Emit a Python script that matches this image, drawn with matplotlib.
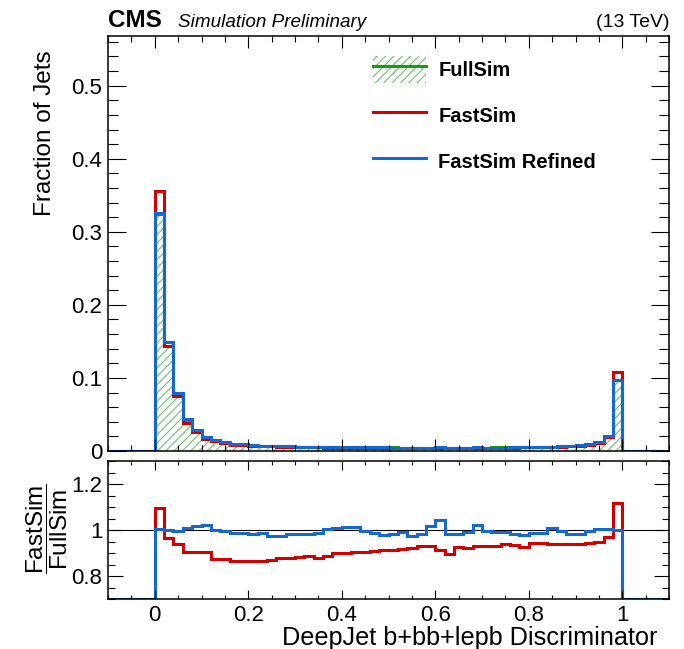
import numpy as np
import matplotlib
matplotlib.use("Agg")
import matplotlib.pyplot as plt
from matplotlib.lines import Line2D
from matplotlib.patches import Patch
from matplotlib.ticker import MultipleLocator, FuncFormatter

# === Dati (bin da 0.02 tra 0 e 1) ===
bin_edges = np.round(np.arange(-0.1, 1.1001, 0.02), 4)

fullsim = [0.325, 0.149, 0.0796, 0.0431, 0.0283, 0.0186, 0.0151, 0.0120, 0.0101, 0.0092,
           0.0080, 0.0074, 0.0074, 0.0066, 0.0065, 0.0057, 0.0056, 0.0055, 0.0054, 0.0051,
           0.0050, 0.0050, 0.0049, 0.0049, 0.0049, 0.0048, 0.0047, 0.0047, 0.0047, 0.0047,
           0.0047, 0.0047, 0.0047, 0.0047, 0.0047, 0.0047, 0.0048, 0.0048, 0.0049, 0.0052,
           0.0054, 0.0055, 0.0058, 0.0064, 0.0070, 0.0080, 0.0092, 0.0118, 0.0204, 0.0967]

fastsim = [0.356, 0.1438, 0.0746, 0.0390, 0.0256, 0.0168, 0.0132, 0.0105, 0.00875, 0.00796,
           0.00691, 0.00641, 0.00644, 0.00579, 0.00571, 0.00503, 0.00496, 0.00482, 0.00478, 0.00458,
           0.00450, 0.00452, 0.00444, 0.00445, 0.00448, 0.00439, 0.00431, 0.00433, 0.00437, 0.00437,
           0.00428, 0.00421, 0.00436, 0.00433, 0.00437, 0.00438, 0.00446, 0.00450, 0.00457, 0.00483,
           0.00509, 0.00518, 0.00545, 0.00602, 0.00656, 0.00750, 0.00867, 0.01117, 0.01975, 0.1080]

refined = [0.3263, 0.1491, 0.0794, 0.0434, 0.0288, 0.0190, 0.0151, 0.0120, 0.00998, 0.00909,
           0.00786, 0.00731, 0.00720, 0.00642, 0.00639, 0.00560, 0.00550, 0.00542, 0.00543, 0.00515,
           0.00506, 0.00506, 0.00489, 0.00483, 0.00480, 0.00472, 0.00465, 0.00459, 0.00462, 0.00479,
           0.00490, 0.00462, 0.00462, 0.00466, 0.00481, 0.00469, 0.00477, 0.00475, 0.00481, 0.00510,
           0.00533, 0.00543, 0.00585, 0.00636, 0.00688, 0.00786, 0.00914, 0.01185, 0.02048, 0.0969]

ratio_fast = [1.095, 0.965, 0.937, 0.904, 0.904, 0.904, 0.876, 0.875, 0.866, 0.865,
              0.864, 0.866, 0.870, 0.878, 0.879, 0.882, 0.886, 0.877, 0.886, 0.898,
              0.900, 0.904, 0.906, 0.909, 0.914, 0.914, 0.918, 0.922, 0.929, 0.929,
              0.911, 0.896, 0.928, 0.922, 0.930, 0.932, 0.930, 0.937, 0.933, 0.928,
              0.942, 0.942, 0.940, 0.940, 0.937, 0.937, 0.942, 0.947, 0.968, 1.117]

ratio_refined = [1.004, 1.001, 0.997, 1.007, 1.016, 1.023, 0.999, 0.997, 0.988, 0.988,
                 0.983, 0.988, 0.973, 0.973, 0.983, 0.983, 0.983, 0.986, 1.005, 1.010,
                 1.012, 1.012, 0.997, 0.985, 0.979, 0.983, 0.990, 0.976, 0.983, 1.019,
                 1.043, 0.983, 0.983, 0.992, 1.023, 0.997, 0.993, 0.990, 0.982, 0.980,
                 0.987, 0.987, 1.009, 0.994, 0.983, 0.983, 0.994, 1.004, 1.004, 1.002]

# bin vuoti fuori da [0, 1]
pad = [0.0] * 5


def full_range(vals):
    return np.array(pad + list(vals) + pad)


# === Stile ===
FONT = "Liberation Sans"
plt.rcParams['font.family'] = [FONT, 'DejaVu Sans']
plt.rcParams['mathtext.fontset'] = 'custom'
plt.rcParams['mathtext.rm'] = FONT
plt.rcParams['hatch.linewidth'] = 0.8

GREEN = '#1a9a1a'
HATCH_GREEN = '#6cc46c'
RED = '#d40000'
BLUE = '#1468d0'
LW = 2.2

W, H = 684, 649
fig = plt.figure(figsize=(W / 100, H / 100), dpi=100)


def fx(px):
    return px / W


def fy(py):
    return 1 - py / H


ax = fig.add_axes([fx(108), fy(451), fx(669) - fx(108), fy(36) - fy(451)])
rax = fig.add_axes([fx(108), fy(599), fx(669) - fx(108), fy(461) - fy(599)])

# === Pannello principale ===
ax.stairs(full_range(fullsim), bin_edges, fill=True, facecolor='none',
          edgecolor=HATCH_GREEN, hatch='////', linewidth=0)
ax.stairs(full_range(fullsim), bin_edges, color=GREEN, linewidth=LW)
ax.stairs(full_range(fastsim), bin_edges, color=RED, linewidth=LW)
ax.stairs(full_range(refined), bin_edges, color=BLUE, linewidth=LW)

ax.set_xlim(-0.1, 1.1)
ax.set_ylim(0, 0.568)

# === Pannello rapporto ===
rax.axhline(1.0, color='black', linewidth=0.8, zorder=1)
rax.stairs(np.clip(full_range(ratio_fast), 0.7, 1.3), bin_edges, color=RED, linewidth=LW)
rax.stairs(np.clip(full_range(ratio_refined), 0.7, 1.3), bin_edges, color=BLUE, linewidth=LW)
rax.set_xlim(-0.1, 1.1)
rax.set_ylim(0.7, 1.3)

fmt = FuncFormatter(lambda v, p: f"{v:g}")
for a in (ax, rax):
    a.xaxis.set_major_locator(MultipleLocator(0.2))
    a.xaxis.set_minor_locator(MultipleLocator(0.05))
    a.tick_params(which='both', direction='in', top=True, right=True,
                  labelsize=16, width=0.8, pad=4)
    a.yaxis.set_major_formatter(fmt)
    a.xaxis.set_major_formatter(fmt)
    for s in a.spines.values():
        s.set_linewidth(1.1)

ax.yaxis.set_major_locator(MultipleLocator(0.1))
ax.yaxis.set_minor_locator(MultipleLocator(0.02))
ax.tick_params(axis='x', which='major', length=8.5)
ax.tick_params(axis='x', which='minor', length=4.3)
ax.tick_params(axis='y', which='major', length=13)
ax.tick_params(axis='y', which='minor', length=7.5)
ax.tick_params(axis='x', labelbottom=False)

rax.yaxis.set_major_locator(MultipleLocator(0.2))
rax.yaxis.set_minor_locator(MultipleLocator(0.05))
rax.tick_params(axis='x', which='major', length=6.5)
rax.tick_params(axis='x', which='minor', length=3.2)
rax.tick_params(axis='y', which='major', length=10.8)
rax.tick_params(axis='y', which='minor', length=5)

# === Legenda ===
handles = [
    (Patch(facecolor='none', edgecolor=HATCH_GREEN, hatch='////', linewidth=0),
     Line2D([], [], color=GREEN, linewidth=LW)),
    Line2D([], [], color=RED, linewidth=LW),
    Line2D([], [], color=BLUE, linewidth=LW),
]
labels = ['FullSim', 'FastSim', 'FastSim Refined']
fig.legend(handles, labels, loc='upper left', bbox_to_anchor=(fx(373), fy(56)),
           bbox_transform=fig.transFigure, frameon=False, borderpad=0,
           borderaxespad=0, handlelength=2.65, handleheight=1.65,
           handletextpad=0.6, labelspacing=0.98,
           prop={'family': FONT, 'weight': 'bold', 'size': 14.5})

# === Testi ===
fig.text(fx(108), fy(27), 'CMS', fontsize=17.5, fontweight='bold', ha='left', va='baseline')
fig.text(fx(178), fy(27), 'Simulation Preliminary', fontsize=13.6, fontstyle='italic',
         ha='left', va='baseline')
fig.text(fx(669), fy(27), '(13 TeV)', fontsize=14, ha='right', va='baseline')

fig.text(fx(45), fy(50), 'Fraction of Jets', fontsize=17.5, rotation=90, ha='center', va='top')
fig.text(fx(47), fy(529), r'$\dfrac{\mathrm{FastSim}}{\mathrm{FullSim}}$', fontsize=17.5,
         rotation=90, ha='center', va='center')
fig.text(fx(657), fy(645), 'DeepJet b+bb+lepb Discriminator', fontsize=18.2,
         ha='right', va='baseline')

fig.savefig('out.png', dpi=100)
